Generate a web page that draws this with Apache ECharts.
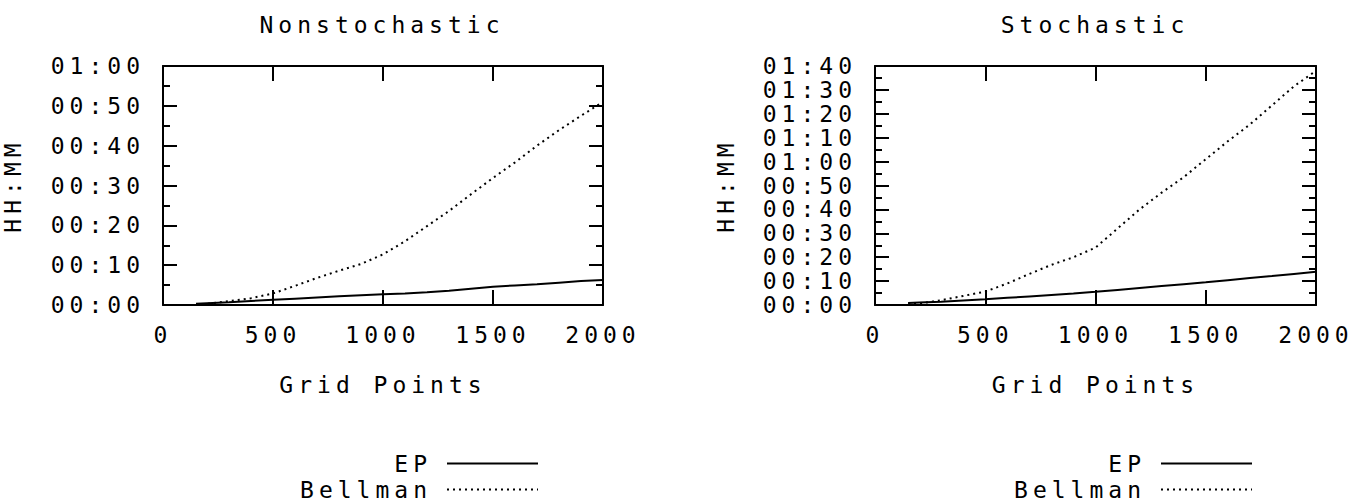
<!DOCTYPE html>
<html>
<head>
<meta charset="utf-8">
<script src="https://cdn.jsdelivr.net/npm/echarts@6/dist/echarts.min.js"></script>
<style>
  html, body { margin: 0; padding: 0; background: #fff; }
  #chart { width: 1354px; height: 501px; }
  #chart svg text { letter-spacing: 5px; }
</style>
</head>
<body>
<div id="chart"></div>
<script>
// ---- data (minutes of run time vs. grid points) ----
const gridPoints = [150, 200, 300, 400, 500, 600, 700, 800, 900, 1000, 1100, 1200, 1300, 1400, 1500, 1600, 1700, 1800, 1900, 2000];
const epNonstochastic = [0.3, 0.45, 0.7, 1.0, 1.3, 1.6, 1.9, 2.2, 2.45, 2.7, 2.9, 3.2, 3.6, 4.1, 4.6, 4.9, 5.2, 5.6, 6.0, 6.3];
const bellmanNonstochastic = [0.1, 0.3, 1.0, 1.7, 2.9, 4.8, 6.8, 8.6, 10.3, 12.7, 16.0, 19.8, 23.6, 27.8, 31.9, 35.8, 40.0, 43.9, 47.5, 51.0];
const epStochastic = [0.8, 1.0, 1.4, 1.9, 2.4, 3.0, 3.6, 4.2, 4.8, 5.5, 6.3, 7.1, 7.9, 8.7, 9.5, 10.4, 11.3, 12.1, 13.0, 13.9];
const bellmanStochastic = [0.3, 0.6, 2.0, 3.8, 5.6, 9.0, 13.0, 16.8, 20.0, 24.0, 32.0, 40.0, 47.0, 53.5, 61.0, 68.5, 75.5, 83.5, 91.5, 98.0];
const panelTitles = ['Nonstochastic', 'Stochastic'];
const seriesNames = ['EP', 'Bellman'];
const xAxisTitle = 'Grid Points';
const yAxisTitle = 'HH:MM';
const xMin = 0, xMax = 2000, xStep = 500;
const yMaxNonstochastic = 60, yMaxStochastic = 100, yStep = 10;

const FONT = '"DejaVu Sans Mono", "Liberation Mono", monospace';
const FS = 23;
const pad2 = n => (n < 10 ? '0' : '') + n;
const hhmm = v => pad2(Math.floor(v / 60)) + ':' + pad2(Math.round(v % 60));
const pairs = (xs, ys) => xs.map((x, i) => [x, ys[i]]);

const frame = { show: true, onZero: false, lineStyle: { color: '#000', width: 2 } };
const txt = { color: '#000', fontFamily: FONT, fontSize: FS };

function xAxes(gi) {
  const base = {
    type: 'value', gridIndex: gi, min: xMin, max: xMax, interval: xStep,
    axisLine: frame, splitLine: { show: false },
    axisTick: { show: true, inside: true, length: 15, lineStyle: { color: '#000', width: 2 } }
  };
  return [
    Object.assign({}, base, {
      position: 'bottom',
      axisLabel: Object.assign({ margin: 18, formatter: v => String(v) }, txt),
      name: xAxisTitle, nameLocation: 'middle', nameGap: 68, nameTextStyle: txt
    }),
    Object.assign({}, base, { position: 'top', axisLabel: { show: false } })
  ];
}
function yAxes(gi, yMax, nameGap) {
  const base = {
    type: 'value', gridIndex: gi, min: 0, max: yMax, interval: yStep,
    axisLine: frame, splitLine: { show: false },
    axisTick: { show: true, inside: true, length: 14, lineStyle: { color: '#000', width: 2 } },
    minorTick: { show: true, splitNumber: 2, length: 7, lineStyle: { color: '#000', width: 2 } },
    minorSplitLine: { show: false }
  };
  return [
    Object.assign({}, base, {
      position: 'left',
      axisLabel: Object.assign({ margin: 18, formatter: hhmm }, txt),
      name: yAxisTitle, nameLocation: 'middle', nameRotate: 90, nameGap: nameGap, nameTextStyle: txt
    }),
    Object.assign({}, base, { position: 'right', axisLabel: { show: false } })
  ];
}

const epStyle = { color: '#000', width: 2, type: 'solid' };
const bellStyle = { color: '#000', width: 2, type: [2, 4], cap: 'butt' };
function mkSeries(name, gi, data, style) {
  return {
    type: 'line', name: name, xAxisIndex: gi * 2, yAxisIndex: gi * 2, data: data,
    symbol: 'none', showSymbol: false, lineStyle: style, itemStyle: { color: '#000' },
    animation: false, silent: true
  };
}
function mkLegend(name, iconRight, top) {
  return {
    data: [name], orient: 'vertical', align: 'right', right: 1354 - iconRight, top: top,
    padding: 0, itemWidth: 91, itemHeight: 20, selectedMode: false,
    itemStyle: { opacity: 0 },
    textStyle: Object.assign({ padding: [0, 10, 0, 0] }, txt)
  };
}

const chart = echarts.init(document.getElementById('chart'), null, { renderer: 'svg', width: 1354, height: 501 });
chart.setOption({
  animation: false,
  backgroundColor: '#fff',
  title: [
    { text: panelTitles[0], left: 382, top: 25, textAlign: 'center', textVerticalAlign: 'middle', padding: 0,
      textStyle: Object.assign({ fontWeight: 'normal' }, txt) },
    { text: panelTitles[1], left: 1095, top: 25, textAlign: 'center', textVerticalAlign: 'middle', padding: 0,
      textStyle: Object.assign({ fontWeight: 'normal' }, txt) }
  ],
  grid: [
    { left: 161, top: 66, width: 442, height: 239, containLabel: false },
    { left: 875, top: 66, width: 441, height: 239, containLabel: false }
  ],
  xAxis: xAxes(0).concat(xAxes(1)),
  yAxis: yAxes(0, yMaxNonstochastic, 139).concat(yAxes(1, yMaxStochastic, 138)),
  legend: [
    mkLegend(seriesNames[0], 539, 452),
    mkLegend(seriesNames[1], 539, 478),
    mkLegend(seriesNames[0], 1253, 452),
    mkLegend(seriesNames[1], 1253, 478)
  ],
  series: [
    mkSeries(seriesNames[0], 0, pairs(gridPoints, epNonstochastic), epStyle),
    mkSeries(seriesNames[1], 0, pairs(gridPoints, bellmanNonstochastic), bellStyle),
    mkSeries(seriesNames[0], 1, pairs(gridPoints, epStochastic), epStyle),
    mkSeries(seriesNames[1], 1, pairs(gridPoints, bellmanStochastic), bellStyle)
  ]
});
</script>
</body>
</html>
